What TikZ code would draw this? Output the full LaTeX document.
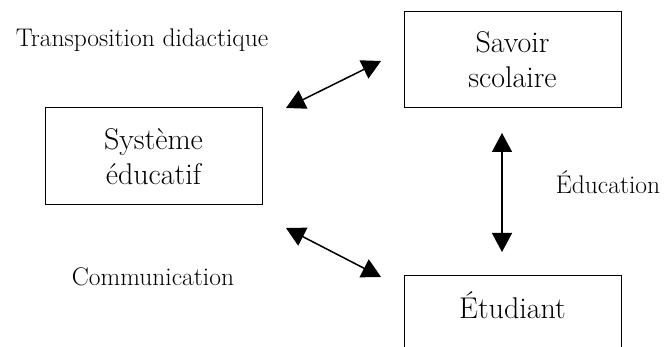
\documentclass[tikz,border=0pt]{standalone}
\usepackage{fontspec}
\usetikzlibrary{arrows.meta}
\begin{document}
\begin{tikzpicture}[x=1pt,y=-1pt,
  box/.style={draw,line width=1pt,minimum width=217pt,align=center,font=\fontsize{30}{35}\selectfont,inner sep=0pt},
  lbl/.style={font=\fontsize{25.5}{28}\selectfont,inner sep=0pt},
  dbl/.style={line width=1.5pt,{Triangle[length=19pt,width=20pt]}-{Triangle[length=19pt,width=20pt]}}]
\useasboundingbox (0,0) rectangle (664,347);
\node[box,minimum height=97pt] (sys) at (153.5,156.5) {Système\\éducatif};
\node[box,minimum height=96pt] (sav) at (512.5,60) {Savoir\\scolaire};
\draw[line width=1pt] (404,350) -- (404,276) -- (621,276) -- (621,350);
\node[font=\fontsize{30}{35}\selectfont,inner sep=0pt] (etu) at (512.5,305) {Étudiant};
\node[lbl] (tr) at (142,40) {Transposition didactique};
\node[lbl] (ed) at (608,182) {Éducation};
\node[lbl] (co) at (153,277) {Communication};
\coordinate (a1) at (286,108);
\coordinate (a2) at (381,61);
\coordinate (b1) at (286,228);
\coordinate (b2) at (381,277);
\coordinate (c1) at (502,133);
\coordinate (c2) at (502,252);
\draw[dbl] (a1) -- (a2);
\draw[dbl] (b1) -- (b2);
\draw[dbl] (c1) -- (c2);
\end{tikzpicture}
\end{document}
